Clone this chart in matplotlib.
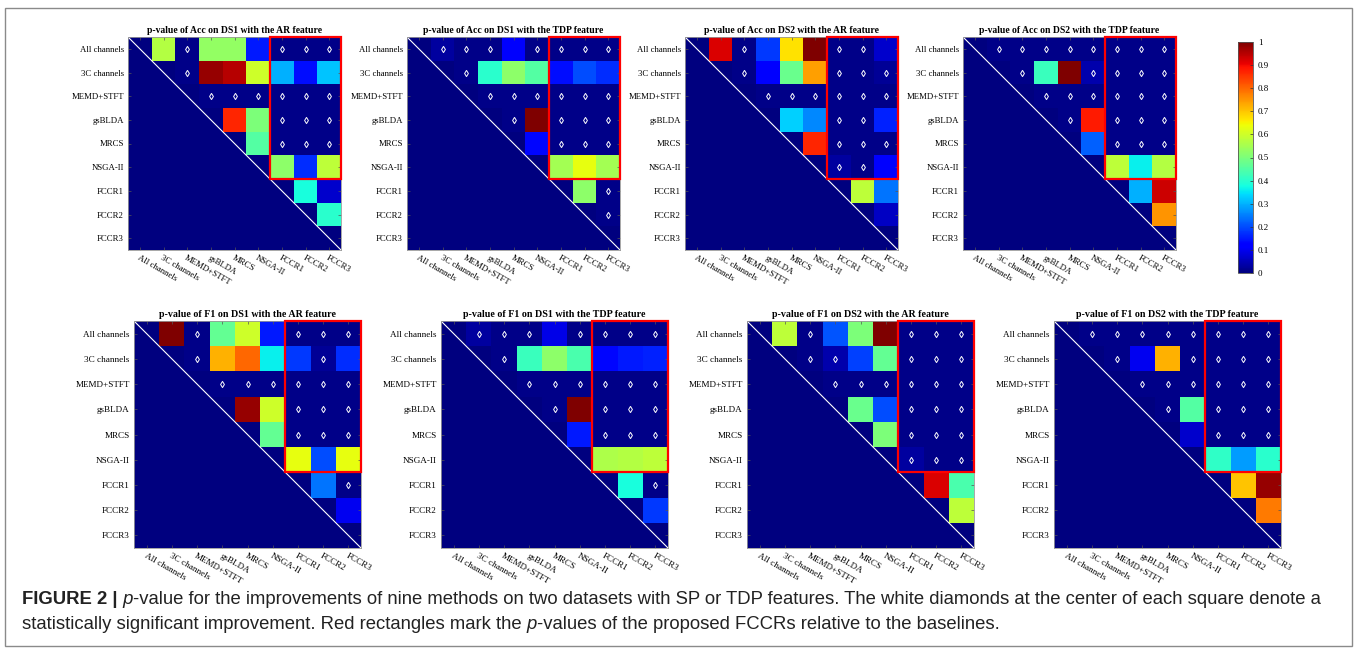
import numpy as np
import matplotlib.pyplot as plt
from matplotlib.patches import Rectangle

# method names (rows and columns of every matrix)
methods = ['All channels', '3C channels', 'MEMD+STFT', 'gsBLDA', 'MRCS',
           'NSGA-II', 'FCCR1', 'FCCR2', 'FCCR3']

# upper triangle of each p-value matrix, row i holds columns i+1..8
acc_ds1_ar = [
    [0.57, 0.01, 0.53, 0.53, 0.15, 0.01, 0.01, 0.01],
    [0.01, 0.98, 0.95, 0.60, 0.30, 0.14, 0.32],
    [0.01, 0.01, 0.01, 0.01, 0.01, 0.01],
    [0.87, 0.50, 0.01, 0.01, 0.01],
    [0.45, 0.01, 0.01, 0.01],
    [0.52, 0.17, 0.58],
    [0.38, 0.07],
    [0.40],
]
acc_ds1_tdp = [
    [0.03, 0.01, 0.01, 0.11, 0.01, 0.01, 0.01, 0.01],
    [0.01, 0.40, 0.52, 0.45, 0.14, 0.20, 0.17],
    [0.01, 0.01, 0.01, 0.01, 0.01, 0.01],
    [0.01, 1.00, 0.01, 0.01, 0.01],
    [0.13, 0.01, 0.01, 0.01],
    [0.55, 0.63, 0.55],
    [0.52, 0.01],
    [0.01],
]
acc_ds2_ar = [
    [0.92, 0.01, 0.18, 0.67, 1.00, 0.01, 0.01, 0.07],
    [0.01, 0.12, 0.48, 0.74, 0.01, 0.01, 0.02],
    [0.01, 0.01, 0.01, 0.01, 0.01, 0.01],
    [0.33, 0.26, 0.01, 0.01, 0.16],
    [0.87, 0.01, 0.01, 0.01],
    [0.03, 0.01, 0.12],
    [0.58, 0.24],
    [0.06],
]
acc_ds2_tdp = [
    [0.01, 0.01, 0.01, 0.01, 0.01, 0.01, 0.01, 0.01],
    [0.01, 0.42, 1.00, 0.04, 0.01, 0.01, 0.01],
    [0.01, 0.01, 0.01, 0.01, 0.01, 0.01],
    [0.01, 0.88, 0.01, 0.01, 0.01],
    [0.22, 0.01, 0.01, 0.01],
    [0.58, 0.36, 0.57],
    [0.30, 0.93],
    [0.75],
]
f1_ds1_ar = [
    [1.00, 0.01, 0.47, 0.60, 0.15, 0.01, 0.01, 0.01],
    [0.01, 0.72, 0.80, 0.36, 0.18, 0.02, 0.17],
    [0.01, 0.01, 0.01, 0.01, 0.01, 0.01],
    [0.98, 0.60, 0.01, 0.01, 0.01],
    [0.47, 0.01, 0.01, 0.01],
    [0.63, 0.20, 0.63],
    [0.24, 0.01],
    [0.10],
]
f1_ds1_tdp = [
    [0.03, 0.01, 0.01, 0.09, 0.01, 0.01, 0.01, 0.01],
    [0.01, 0.42, 0.52, 0.44, 0.13, 0.15, 0.16],
    [0.01, 0.01, 0.01, 0.01, 0.01, 0.01],
    [0.01, 1.00, 0.01, 0.01, 0.01],
    [0.15, 0.01, 0.01, 0.01],
    [0.56, 0.57, 0.58],
    [0.38, 0.01],
    [0.18],
]
f1_ds2_ar = [
    [0.58, 0.01, 0.21, 0.50, 1.00, 0.01, 0.01, 0.01],
    [0.01, 0.04, 0.19, 0.47, 0.01, 0.01, 0.01],
    [0.01, 0.01, 0.01, 0.01, 0.01, 0.01],
    [0.48, 0.20, 0.01, 0.01, 0.01],
    [0.50, 0.01, 0.01, 0.01],
    [0.03, 0.01, 0.01],
    [0.92, 0.44],
    [0.58],
]
f1_ds2_tdp = [
    [0.01, 0.01, 0.01, 0.01, 0.01, 0.01, 0.01, 0.01],
    [0.01, 0.10, 0.72, 0.01, 0.01, 0.01, 0.01],
    [0.01, 0.01, 0.01, 0.01, 0.01, 0.01],
    [0.01, 0.45, 0.01, 0.01, 0.01],
    [0.07, 0.01, 0.01, 0.01],
    [0.41, 0.28, 0.40],
    [0.70, 0.98],
    [0.78],
]

titles = ['p-value of Acc on DS1 with the AR feature',
          'p-value of Acc on DS1 with the TDP feature',
          'p-value of Acc on DS2 with the AR feature',
          'p-value of Acc on DS2 with the TDP feature',
          'p-value of F1 on DS1 with the AR feature',
          'p-value of F1 on DS1 with the TDP feature',
          'p-value of F1 on DS2 with the AR feature',
          'p-value of F1 on DS2 with the TDP feature']
matrices = [acc_ds1_ar, acc_ds1_tdp, acc_ds2_ar, acc_ds2_tdp,
            f1_ds1_ar, f1_ds1_tdp, f1_ds2_ar, f1_ds2_tdp]
alpha = 0.05
cbar_ticks = [0, 0.1, 0.2, 0.3, 0.4, 0.5, 0.6, 0.7, 0.8, 0.9, 1]


def full_matrix(upper):
    m = np.zeros((len(methods), len(methods)))
    for i, row in enumerate(upper):
        m[i, i + 1:] = row
    return m


W, H = 1358, 672
fig = plt.figure(figsize=(W / 100, H / 100), dpi=100)
serif = 'Liberation Serif'


def px_axes(left, top, w, h):
    return fig.add_axes([left / W, 1 - (top + h) / H, w / W, h / H])


# panel placement in pixels: (left, top, size, font size)
boxes = [(128, 37, 213, 6.3), (407, 37, 213, 6.3), (685, 37, 213, 6.3), (963, 37, 213, 6.3),
         (134, 321, 227, 6.6), (441, 321, 227, 6.6), (747, 321, 227, 6.6), (1054, 321, 227, 6.6)]

n = len(methods)
for title, upper, (left, top, size, fs) in zip(titles, matrices, boxes):
    ax = px_axes(left, top, size, size)
    m = full_matrix(upper)
    im = ax.imshow(m, cmap='jet', vmin=0, vmax=1, interpolation='nearest', aspect='auto')
    # diagonal
    ax.plot([-0.5, n - 0.5], [-0.5, n - 0.5], color='white', lw=0.8)
    # significant cells
    sig = np.triu(m < alpha, k=1)
    ii, jj = np.where(sig)
    ax.plot(jj, ii, 'd', ms=3.2, mfc='none', mec='white', mew=0.7, ls='none')
    # proposed FCCRs vs baselines
    ax.add_patch(Rectangle((5.5, -0.5), 3, 6, fill=False, ec='red', lw=1.6,
                           clip_on=False, zorder=5))
    ax.set_xlim(-0.5, n - 0.5)
    ax.set_ylim(n - 0.5, -0.5)
    ax.set_xticks(range(n))
    ax.set_yticks(range(n))
    ax.set_yticklabels(methods, fontsize=fs, family=serif)
    ax.set_xticklabels(methods, fontsize=fs, family=serif, rotation=-30,
                       ha='left', va='top', rotation_mode='anchor')
    ax.tick_params(direction='in', length=2, width=0.5, color='#555555',
                   top=True, right=True, pad=3)
    for s in ax.spines.values():
        s.set_color('#999999')
        s.set_linewidth(0.6)
    ax.set_title(title, fontsize=fs + 0.6, family=serif, fontweight='bold', pad=3)

# colour bar
cax = px_axes(1238, 42, 15, 231)
cb = fig.colorbar(im, cax=cax, ticks=cbar_ticks)
cb.ax.set_yticklabels([f'{t:g}' for t in cbar_ticks], fontsize=6.5, family=serif)
cb.ax.tick_params(length=2, width=0.5, direction='in', color='#333333')
cb.outline.set_linewidth(0.6)
cb.outline.set_edgecolor('#555555')

# outer frame
fig.patches.append(Rectangle((5 / W, 1 - 646 / H), 1347 / W, 638 / H, transform=fig.transFigure,
                             fill=False, ec='#8a8a8a', lw=1.0))

# caption
cap_font = ['Liberation Sans Narrow', 'Liberation Sans']
cfs = 13.3
prev = fig.text(22 / W, 1 - 608 / H, 'FIGURE 2 |', fontsize=cfs, family=cap_font,
                fontweight='bold', va='bottom', color='#222222')
pieces = [(' p', 'italic'),
          ('-value for the improvements of nine methods on two datasets with SP or TDP features. '
           'The white diamonds at the center of each square denote a', 'normal')]
for txt, style in pieces:
    prev = fig.add_artist(plt.Annotation(txt, xy=(1, 0), xycoords=prev, va='bottom', ha='left',
                                         fontsize=cfs, family=cap_font, fontstyle=style,
                                         color='#222222'))
prev = fig.text(22 / W, 1 - 633 / H,
                'statistically significant improvement. Red rectangles mark the ',
                fontsize=cfs, family=cap_font, va='bottom', color='#222222')
for txt, style in [('p', 'italic'),
                   ('-values of the proposed FCCRs relative to the baselines.', 'normal')]:
    prev = fig.add_artist(plt.Annotation(txt, xy=(1, 0), xycoords=prev, va='bottom', ha='left',
                                         fontsize=cfs, family=cap_font, fontstyle=style,
                                         color='#222222'))

fig.savefig('out.png', dpi=100)
